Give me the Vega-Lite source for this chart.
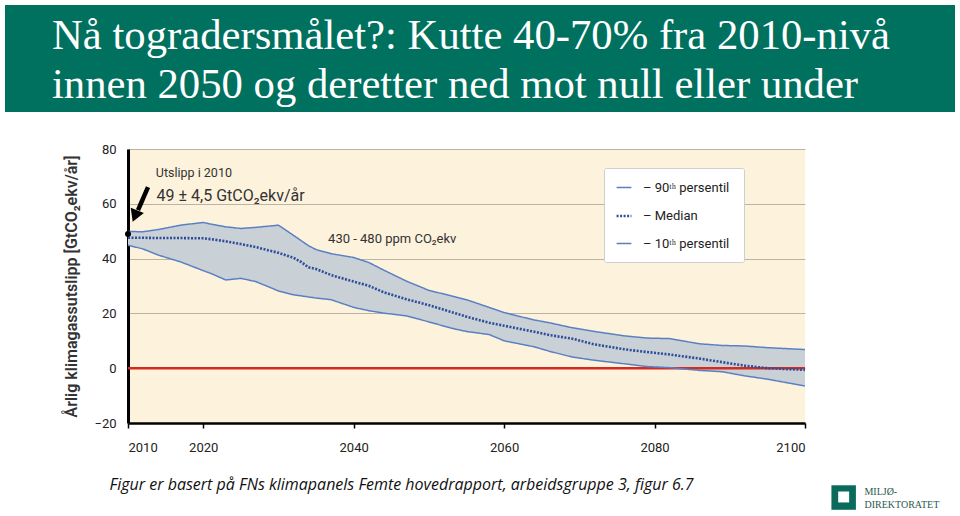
{
  "$schema": "https://vega.github.io/schema/vega-lite/v6.json",
  "padding": {"left": 5, "top": 5, "right": 5, "bottom": 0},
  "background": "white",
  "config": {"view": {"stroke": null}, "font": "Roboto"},
  "datasets": {
    "em": [
      {"year": 2010, "p10": 44.9, "p50": 47.6, "p90": 49.9},
      {"year": 2012, "p10": 43.5, "p50": 47.6, "p90": 49.8},
      {"year": 2014, "p10": 41.3, "p50": 47.5, "p90": 50.6},
      {"year": 2017, "p10": 38.8, "p50": 47.5, "p90": 52.2},
      {"year": 2020, "p10": 35.6, "p50": 47.4, "p90": 53.2},
      {"year": 2021, "p10": 34.6, "p50": 47.1, "p90": 52.6},
      {"year": 2023, "p10": 32.2, "p50": 46.3, "p90": 51.6},
      {"year": 2025, "p10": 32.8, "p50": 45.3, "p90": 51.0},
      {"year": 2027, "p10": 31.6, "p50": 44.2, "p90": 51.4},
      {"year": 2030, "p10": 28.2, "p50": 42.1, "p90": 52.2},
      {"year": 2032, "p10": 26.8, "p50": 40.3, "p90": 48.5},
      {"year": 2033, "p10": 26.4, "p50": 38.8, "p90": 46.6},
      {"year": 2034, "p10": 26.0, "p50": 36.8, "p90": 44.7},
      {"year": 2035, "p10": 25.6, "p50": 36.2, "p90": 43.3},
      {"year": 2037, "p10": 25.0, "p50": 34.0, "p90": 41.8},
      {"year": 2040, "p10": 22.2, "p50": 31.6, "p90": 40.4},
      {"year": 2042, "p10": 21.0, "p50": 30.1, "p90": 38.6},
      {"year": 2044, "p10": 20.1, "p50": 27.7, "p90": 35.8},
      {"year": 2047, "p10": 19.1, "p50": 25.2, "p90": 31.8},
      {"year": 2050, "p10": 16.9, "p50": 23.0, "p90": 28.4},
      {"year": 2053, "p10": 14.6, "p50": 20.5, "p90": 26.4},
      {"year": 2055, "p10": 13.4, "p50": 18.8, "p90": 25.0},
      {"year": 2058, "p10": 12.3, "p50": 16.6, "p90": 22.2},
      {"year": 2060, "p10": 10.0, "p50": 15.5, "p90": 20.3},
      {"year": 2064, "p10": 7.8, "p50": 13.3, "p90": 17.6},
      {"year": 2066, "p10": 6.2, "p50": 12.1, "p90": 16.6},
      {"year": 2069, "p10": 4.1, "p50": 10.8, "p90": 14.8},
      {"year": 2072, "p10": 2.9, "p50": 8.7, "p90": 13.4},
      {"year": 2076, "p10": 1.6, "p50": 6.9, "p90": 11.8},
      {"year": 2079, "p10": 0.6, "p50": 5.9, "p90": 11.0},
      {"year": 2082, "p10": 0.2, "p50": 5.0, "p90": 10.8},
      {"year": 2086, "p10": -0.8, "p50": 3.5, "p90": 8.9},
      {"year": 2089, "p10": -1.3, "p50": 2.2, "p90": 8.3},
      {"year": 2092, "p10": -2.8, "p50": 0.9, "p90": 8.1},
      {"year": 2095, "p10": -4.0, "p50": 0.0, "p90": 7.5},
      {"year": 2100, "p10": -6.5, "p50": -0.6, "p90": 6.8}
    ]
  },
  "spacing": 31,
  "vconcat": [
    {
      "width": 950,
      "height": 107,
      "view": {"fill": "#00705f", "stroke": null},
      "title": {
        "text": ["Nå togradersmålet?: Kutte 40-70% fra 2010-nivå", "innen 2050 og deretter ned mot null eller under"],
        "orient": "top",
        "anchor": "start",
        "frame": "group",
        "offset": -102,
        "dx": 47,
        "font": "Liberation Serif",
        "fontSize": 42.7,
        "fontWeight": "normal",
        "color": "white",
        "lineHeight": 49
      },
      "data": {"values": [{}]},
      "mark": {"type": "text"},
      "encoding": {"text": {"value": ""}}
    },
    {
      "spacing": 0,
      "hconcat": [
        {
          "width": 58,
          "height": 1,
          "data": {"values": [{}]},
          "mark": {"type": "text"},
          "encoding": {"text": {"value": ""}}
        },
        {
          "width": 677,
          "height": 274,
          "view": {"fill": "#fdf2dc", "stroke": null},
          "layer": [
            {
              "data": {"name": "em"},
              "mark": {"type": "area", "color": "#c9d0d6", "opacity": 1},
              "encoding": {
                "x": {
                  "field": "year", "type": "quantitative",
                  "scale": {"domain": [2010, 2100], "nice": false, "zero": false},
                  "axis": {
                    "values": [2010, 2020, 2040, 2060, 2080, 2100],
                    "format": "d",
                    "grid": false,
                    "domainColor": "black", "domainWidth": 2.5,
                    "tickColor": "black", "tickSize": 5, "tickWidth": 1.5,
                    "labelPadding": 13, "labelFontSize": 13, "labelColor": "#222",
                    "title": "Figur er basert på FNs klimapanels Femte hovedrapport, arbeidsgruppe 3, figur 6.7",
                    "titleX": -19, "titleY": 66, "titleAlign": "left", "titleAnchor": "start",
                    "titleBaseline": "alphabetic",
                    "titleFont": "Open Sans", "titleFontStyle": "italic", "titleFontWeight": "normal",
                    "titleFontSize": 16, "titleColor": "#111"
                  }
                },
                "y": {
                  "field": "p10", "type": "quantitative",
                  "scale": {"domain": [-20, 80], "nice": false, "zero": false},
                  "axis": {
                    "values": [-20, 0, 20, 40, 60, 80],
                    "grid": true, "gridColor": "#bbb3a3", "gridWidth": 1,
                    "domainColor": "black", "domainWidth": 3,
                    "ticks": false, "labelPadding": 12, "labelFontSize": 13, "labelColor": "#222",
                    "title": "Årlig klimagassutslipp [GtCO₂ekv/år]",
                    "titleFontSize": 16, "titleFontWeight": 600, "titleColor": "#333", "titlePadding": 14
                  }
                },
                "y2": {"field": "p90"}
              }
            },
            {
              "data": {"values": [{}]},
              "mark": {"type": "rule", "color": "#d52b1e", "strokeWidth": 2.5},
              "encoding": {"y": {"datum": 0, "type": "quantitative"}}
            },
            {
              "data": {"name": "em"},
              "transform": [{"fold": ["p90", "p50", "p10"], "as": ["series", "value"]}],
              "mark": {"type": "line"},
              "encoding": {
                "x": {"field": "year", "type": "quantitative"},
                "y": {"field": "value", "type": "quantitative"},
                "color": {
                  "field": "series", "type": "nominal",
                  "scale": {"domain": ["p90", "p50", "p10"], "range": ["#5a80c4", "#2e4d9a", "#5a80c4"]},
                  "legend": {
                    "title": null, "orient": "none", "legendX": 599, "legendY": 163,
                    "fillColor": "white", "strokeColor": "#cfcfcf", "padding": 11, "cornerRadius": 2,
                    "symbolType": "stroke", "symbolSize": 220, "symbolStrokeWidth": 2,
                    "rowPadding": 12, "labelFontSize": 13, "labelColor": "#222", "labelOffset": 10,
                    "labelExpr": "datum.label == 'p90' ? '–  90ᵗʰ persentil' : datum.label == 'p50' ? '–  Median' : '–  10ᵗʰ persentil'"
                  }
                },
                "strokeDash": {
                  "field": "series", "type": "nominal",
                  "scale": {"domain": ["p90", "p50", "p10"], "range": [[1, 0], [2, 1.5], [1, 0]]}
                },
                "strokeWidth": {
                  "field": "series", "type": "nominal",
                  "scale": {"type": "ordinal", "domain": ["p90", "p50", "p10"], "range": [1.5, 2.6, 1.5]}
                }
              }
            },
            {
              "data": {"values": [{"year": 2010, "value": 49}]},
              "mark": {"type": "point", "filled": true, "color": "black", "size": 36, "opacity": 1},
              "encoding": {"x": {"field": "year", "type": "quantitative"}, "y": {"field": "value", "type": "quantitative"}}
            },
            {
              "data": {"values": [{"x": 2012.66, "y": 66.1, "x2": 2011.33, "y2": 57.7}]},
              "mark": {"type": "rule", "color": "black", "strokeWidth": 4.5},
              "encoding": {
                "x": {"field": "x", "type": "quantitative"}, "y": {"field": "y", "type": "quantitative"},
                "x2": {"field": "x2"}, "y2": {"field": "y2"}
              }
            },
            {
              "data": {"values": [{"year": 2010.93, "value": 55.5}]},
              "mark": {"type": "point", "shape": "triangle-down", "angle": 22, "size": 200, "filled": true, "color": "black", "opacity": 1},
              "encoding": {"x": {"field": "year", "type": "quantitative"}, "y": {"field": "value", "type": "quantitative"}}
            },
            {
              "data": {"values": [{"year": 2013.7, "value": 69.7, "label": "Utslipp i 2010"}]},
              "mark": {"type": "text", "align": "left", "baseline": "alphabetic", "fontSize": 12.5, "color": "#333"},
              "encoding": {"x": {"field": "year", "type": "quantitative"}, "y": {"field": "value", "type": "quantitative"}, "text": {"field": "label"}}
            },
            {
              "data": {"values": [{"year": 2013.8, "value": 61.1, "label": "49 ± 4,5 GtCO₂ekv/år"}]},
              "mark": {"type": "text", "align": "left", "baseline": "alphabetic", "fontSize": 16, "color": "#333"},
              "encoding": {"x": {"field": "year", "type": "quantitative"}, "y": {"field": "value", "type": "quantitative"}, "text": {"field": "label"}}
            },
            {
              "data": {"values": [{"year": 2036.6, "value": 45.7, "label": "430 - 480  ppm CO₂ekv"}]},
              "mark": {"type": "text", "align": "left", "baseline": "alphabetic", "fontSize": 13, "color": "#333"},
              "encoding": {"x": {"field": "year", "type": "quantitative"}, "y": {"field": "value", "type": "quantitative"}, "text": {"field": "label"}}
            },
            {
              "data": {"values": [{"year": 2105.14, "value": -47.2}]},
              "mark": {"type": "point", "shape": "square", "size": 600, "filled": true, "color": "#0b6b5a", "opacity": 1},
              "encoding": {"x": {"field": "year", "type": "quantitative"}, "y": {"field": "value", "type": "quantitative"}}
            },
            {
              "data": {"values": [{"year": 2105.14, "value": -47.0}]},
              "mark": {"type": "point", "shape": "square", "size": 120, "filled": true, "color": "white", "opacity": 1},
              "encoding": {"x": {"field": "year", "type": "quantitative"}, "y": {"field": "value", "type": "quantitative"}}
            },
            {
              "data": {"values": [{"year": 2107.9, "value": -46.3, "label": "MILJØ-"}, {"year": 2107.9, "value": -50.9, "label": "DIREKTORATET"}]},
              "mark": {"type": "text", "align": "left", "baseline": "alphabetic", "font": "Liberation Serif", "fontSize": 10, "color": "#2a5a4f"},
              "encoding": {"x": {"field": "year", "type": "quantitative"}, "y": {"field": "value", "type": "quantitative"}, "text": {"field": "label"}}
            }
          ]
        }
      ]
    }
  ]
}
